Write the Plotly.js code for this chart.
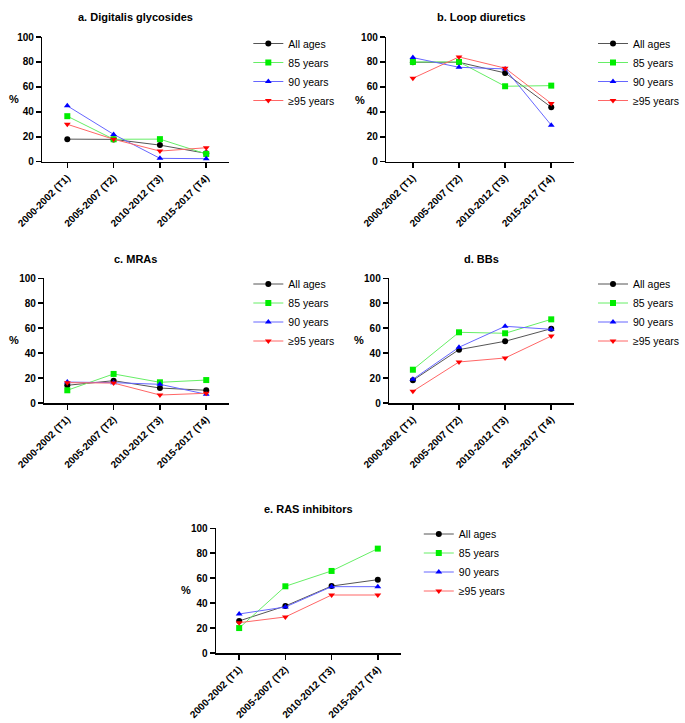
<!DOCTYPE html>
<html><head><meta charset="utf-8">
<script src="https://cdn.plot.ly/plotly-3.0.1.min.js"></script>
<style>body{margin:0;background:#fff}#c{width:685px;height:723px}</style>
</head><body><div id="c"></div>
<script>
const periods = ["2000-2002 (T1)", "2005-2007 (T2)", "2010-2012 (T3)", "2015-2017 (T4)"];
const seriesNames = ["All ages", "85 years", "90 years", "≥95 years"];
const panelTitles = ["a. Digitalis glycosides", "b. Loop diuretics", "c. MRAs", "d. BBs", "e. RAS inhibitors"];

const digitalisAll = [18.1, 17.9, 13.3, 6.7];
const digitalis85 = [36.5, 18, 18.1, 6.2];
const digitalis90 = [44.8, 21.9, 2.7, 2.4];
const digitalis95 = [30, 18, 8.5, 11.2];

const loopAll = [79.7, 79.7, 71.2, 43.7];
const loop85 = [80, 80, 60.5, 61];
const loop90 = [83.5, 75.7, 74.4, 29.3];
const loop95 = [66.9, 84, 75, 46.7];

const mraAll = [14.2, 17.9, 12, 10.2];
const mra85 = [10.2, 23.3, 16.6, 18.4];
const mra90 = [16.8, 16.3, 15, 7];
const mra95 = [16.3, 16, 6.4, 7.8];

const bbAll = [18.2, 42.8, 49.5, 59.6];
const bb85 = [26.7, 56.7, 55.9, 67.1];
const bb90 = [19, 44.7, 61.5, 59.1];
const bb95 = [9.4, 32.9, 36.1, 53.7];

const rasAll = [25.7, 37.7, 53.7, 58.8];
const ras85 = [20, 53.5, 65.8, 83.7];
const ras90 = [31.3, 36.9, 53.2, 53.2];
const ras95 = [24.3, 28.9, 46.5, 46.5];

const panelData = [
  [digitalisAll, digitalis85, digitalis90, digitalis95],
  [loopAll, loop85, loop90, loop95],
  [mraAll, mra85, mra90, mra95],
  [bbAll, bb85, bb90, bb95],
  [rasAll, ras85, ras90, ras95]
];

const W = 685, H = 723;
const colors = ["#000000", "#00ee00", "#0000ff", "#ff0000"];
const lineColors = ["#555555", "#66ee66", "#6666ff", "#ff6666"];
const symbols = ["circle", "square", "triangle-up", "triangle-down"];
// pixel geometry: [axisLeft, firstTick, tickSpacing, right, top(100), bottom(0), titleX, titleY, legendX, legendY, pctX, pctY]
const geo = [
  [43, 68.3, 47, 232, 37, 161.7, 138, 17, 252, 29, 14.5, 99],
  [392, 419, 46.8, 582, 37, 161.7, 489, 17, 602, 29, 365, 100],
  [45, 68.3, 47, 232, 278.3, 403, 138, 259, 252, 269.5, 14.5, 340],
  [395, 419, 46.8, 582, 278.3, 403, 489, 259, 602, 269.5, 364, 340],
  [219.3, 242.7, 46.9, 406.7, 528.3, 653, 313, 509, 425, 519.5, 189, 590]
];

const traces = [];
const layout = {
  width: W, height: H, margin: {l: 0, r: 0, t: 0, b: 0},
  paper_bgcolor: "#fff", plot_bgcolor: "#fff",
  font: {family: "Liberation Sans, Arial, sans-serif", color: "#000"},
  showlegend: true, annotations: []
};

panelData.forEach((sets, p) => {
  const g = geo[p];
  const k = p === 0 ? "" : String(p + 1);
  const xa = "xaxis" + k, ya = "yaxis" + k, lg = "legend" + k;
  const lo = (g[0] - g[1]) / g[2];
  const hi = (g[3] - g[1]) / g[2];
  layout[xa] = {
    domain: [g[0] / W, g[3] / W], anchor: "y" + k,
    type: "category", categoryorder: "array", categoryarray: periods,
    range: [lo, hi], showgrid: false, zeroline: false,
    showline: true, linecolor: "#000", linewidth: 1.5,
    ticks: "outside", ticklen: 5, tickwidth: 1.5, tickcolor: "#000",
    tickangle: -45, tickfont: {size: 10, weight: "bold", color: "#000"}, fixedrange: true
  };
  layout[ya] = {
    domain: [1 - g[5] / H, 1 - g[4] / H], anchor: "x" + k,
    range: [0, 100], tickvals: [0, 20, 40, 60, 80, 100], showgrid: false, zeroline: false,
    showline: true, linecolor: "#000", linewidth: 1.5,
    ticks: "outside", ticklen: 5, tickwidth: 1.5, tickcolor: "#000",
    tickfont: {size: 10, weight: "bold", color: "#000"}, fixedrange: true
  };
  layout[lg] = {
    x: g[8] / W, y: 1 - g[9] / H, xanchor: "left", yanchor: "top",
    font: {size: 10.5, color: "#000"}, bgcolor: "rgba(0,0,0,0)",
    itemwidth: 30, tracegroupgap: 0
  };
  layout.annotations.push({
    text: panelTitles[p], x: g[6] / W, y: 1 - g[7] / H, xref: "paper", yref: "paper",
    xanchor: "center", yanchor: "middle", showarrow: false,
    font: {size: 11, weight: "bold", color: "#000"}
  });
  layout.annotations.push({
    text: "%", x: g[10] / W, y: 1 - g[11] / H, xref: "paper", yref: "paper",
    xanchor: "center", yanchor: "middle", showarrow: false,
    font: {size: 11, weight: "bold", color: "#000"}
  });
  sets.forEach((vals, s) => {
    traces.push({
      type: "scatter", mode: "lines+markers", x: periods, y: vals,
      name: seriesNames[s], xaxis: "x" + k, yaxis: "y" + k, legend: lg,
      line: {color: lineColors[s], width: 1},
      marker: {color: colors[s], symbol: symbols[s], size: 6},
      cliponaxis: false
    });
  });
});

Plotly.newPlot("c", traces, layout, {staticPlot: true});
</script></body></html>
